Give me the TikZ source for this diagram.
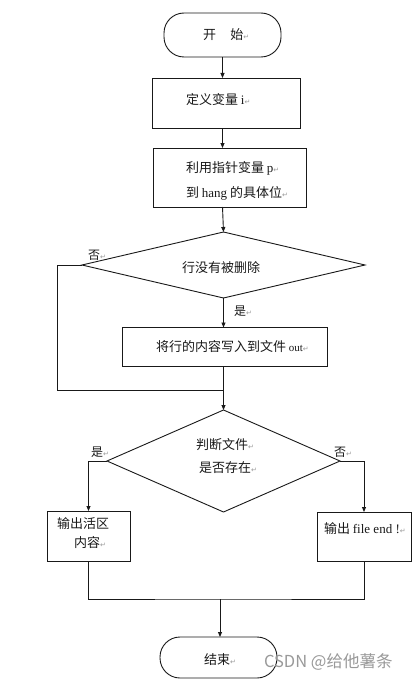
\documentclass[tikz,border=0pt]{standalone}
\usepackage{fontspec}
\setmainfont{Liberation Serif}
\newfontfamily\cjk{Noto Sans CJK SC}
\newfontfamily\symf{DejaVu Sans}
\usetikzlibrary{shapes.geometric,arrows.meta}
\newcommand\pmk{{\symf\fontsize{7}{7}\selectfont\textcolor{gray!80}{↵}}}
\begin{document}
\begin{tikzpicture}[x=1pt,y=-1pt,
  every node/.style={inner sep=0pt, outer sep=0pt},
  ln/.style={line width=0.9pt, draw=black!90},
  arr/.style={ln, -{Triangle[length=5pt,width=4pt]}},
  term/.style={ln, rectangle, rounded corners=20pt},
  proc/.style={ln, rectangle},
  dec/.style={ln, diamond},
  txt/.style={anchor=west, font=\cjk\fontsize{13}{15}\selectfont, text=black!90},
  lab/.style={anchor=west, font=\cjk\fontsize{12}{14}\selectfont, text=black!90}
]
\useasboundingbox (0,0) rectangle (417,682);
\fill[white] (0,0) rectangle (417,682);

% shapes
\node[term, minimum width=117pt, minimum height=44pt] (start) at (222.5,35) {};
\node[proc, minimum width=148pt, minimum height=50pt] (b1) at (226,103) {};
\node[proc, minimum width=153pt, minimum height=59pt] (b2) at (229.5,177.5) {};
\node[dec, minimum width=283pt, minimum height=66pt] (d1) at (223.5,265) {};
\node[proc, minimum width=205pt, minimum height=39pt] (b3) at (224.5,347) {};
\node[dec, minimum width=233pt, minimum height=102pt] (d2) at (223.5,461) {};
\node[proc, minimum width=83pt, minimum height=50pt] (b4) at (88.5,536) {};
\node[proc, minimum width=94pt, minimum height=49pt] (b5) at (364,536.5) {};
\node[term, minimum width=117pt, minimum height=41pt] (end) at (218.5,657.5) {};

% texts
\node[txt] (t0) at (203,35) {开\hspace{1.1em}始\pmk};
\node[txt] (t1) at (186,100) {定义变量 {\rmfamily i}\pmk};
\node[txt] (t2a) at (186,168) {利用指针变量 {\rmfamily p}\pmk};
\node[txt] (t2b) at (186,193) {到 {\rmfamily hang} 的具体位\pmk};
\node[txt] (t3) at (182,268) {行没有被删除};
\node[txt] (t4) at (156,347) {将行的内容写入到文件 {\rmfamily\fontsize{11}{13}\selectfont out}\pmk};
\node[txt] (t5a) at (196,445) {判断文件\pmk};
\node[txt] (t5b) at (199,468) {是否存在\pmk};
\node[txt] (t6a) at (57,524) {输出活区};
\node[txt] (t6b) at (74,543) {内容\pmk};
\node[txt] (t7) at (324,529) {输出 {\rmfamily file end !}\pmk};
\node[txt] (t8) at (204,660) {结束\pmk};

\node[lab] (no1) at (88,255) {否\pmk};
\node[lab] (yes1) at (234,311) {是\pmk};
\node[lab] (yes2) at (91,452) {是\pmk};
\node[lab] (no2) at (334,452) {否\pmk};

\node[anchor=west, font=\cjk\fontsize{16.5}{18}\selectfont, text=black!40] (wm) at (264,662) {CSDN @给他薯条};

% connectors
\coordinate (lx) at (57,390);
\coordinate (jn) at (223.5,390);
\coordinate (m) at (220,599);

\draw[arr] (start.south) -- (start.south |- b1.north);
\draw[arr] (start.south |- b1.south) -- (start.south |- b2.north);
\draw[arr] (start.south |- b2.south) -- (d1.north);
\draw[arr] (d1.south) -- (d1.south |- b3.north);
\draw[ln] (d1.west) -| (lx) -- (jn);
\draw[arr] (d2.north |- b3.south) -- (d2.north);
\draw[arr] (d2.west) -| (b4.north);
\draw[arr] (d2.east) -| (b5.north);
\draw[ln] (b4.south) |- (m) -| (b5.south);
\draw[arr] (m) -- (m |- end.north);
\end{tikzpicture}
\end{document}
